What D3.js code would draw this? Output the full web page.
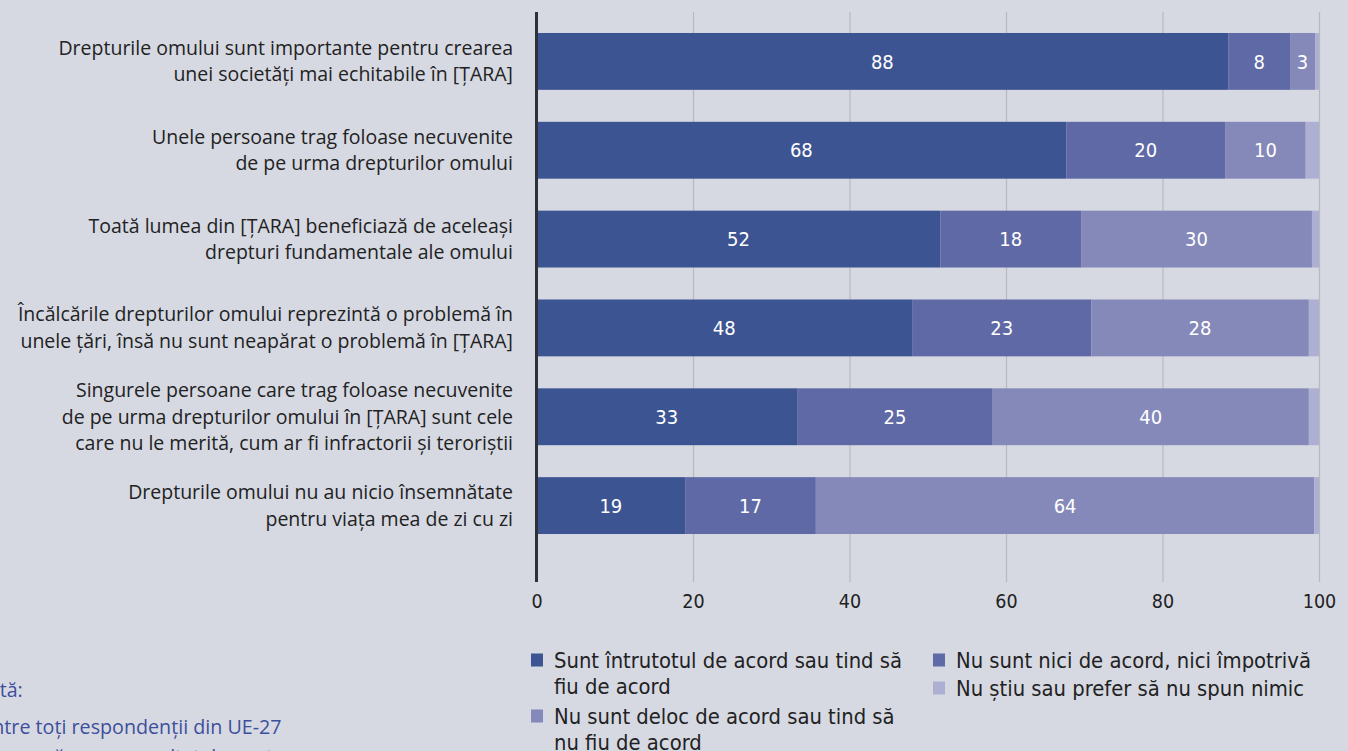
<!DOCTYPE html>
<html>
<head>
<meta charset="utf-8">
<script src="https://cdn.jsdelivr.net/npm/d3@7"></script>
<style>
  body { margin: 0; background: #d6d9e2; overflow: hidden; }
  svg { display: block; }
  .cat { font-family: "Open Sans", "Noto Sans", sans-serif; font-size: 19.5px; fill: #222; }
  .tick text { font-family: "Liberation Sans Narrow", "DejaVu Sans Condensed", sans-serif; font-size: 19.5px; fill: #222; }
  .val { font-family: "Liberation Sans Narrow", "DejaVu Sans Condensed", sans-serif; font-size: 20px; fill: #fff; }
  .leg { font-family: "Liberation Sans Narrow", "DejaVu Sans Condensed", sans-serif; font-size: 21.8px; fill: #222; }
  .note { font-family: "Open Sans", "Noto Sans", sans-serif; font-size: 19.7px; fill: #3d4f9c; }
</style>
</head>
<body>
<svg id="chart" width="1348" height="751"></svg>
<script>
const categories = [
  ["Drepturile omului sunt importante pentru crearea", "unei societăți mai echitabile în [ȚARA]"],
  ["Unele persoane trag foloase necuvenite", "de pe urma drepturilor omului"],
  ["Toată lumea din [ȚARA] beneficiază de aceleași", "drepturi fundamentale ale omului"],
  ["Încălcările drepturilor omului reprezintă o problemă în", "unele țări, însă nu sunt neapărat o problemă în [ȚARA]"],
  ["Singurele persoane care trag foloase necuvenite", "de pe urma drepturilor omului în [ȚARA] sunt cele", "care nu le merită, cum ar fi infractorii și teroriștii"],
  ["Drepturile omului nu au nicio însemnătate", "pentru viața mea de zi cu zi"]
];

// share of respondents (%) per answer
const agree    = [88.4, 67.7, 51.6, 48.0, 33.3, 19.0];
const neutral  = [7.9, 20.3, 18.0, 22.9, 25.0, 16.7];
const disagree = [3.2, 10.3, 29.5, 27.8, 40.4, 63.7];
const dontKnow = [0.5, 1.7, 0.9, 1.3, 1.3, 0.6];

const seriesNames = [
  "Sunt întrutotul de acord sau tind să fiu de acord",
  "Nu sunt nici de acord, nici împotrivă",
  "Nu sunt deloc de acord sau tind să nu fiu de acord",
  "Nu știu sau prefer să nu spun nimic"
];
const colors = ["#3d5493", "#5f69a5", "#8589b9", "#aeb0d3"];
const xTicks = [0, 20, 40, 60, 80, 100];

const svg = d3.select("#chart");
const x = d3.scaleLinear().domain([0, 100]).range([536.5, 1319]);
const y = d3.scaleBand().domain(d3.range(categories.length))
  .range([17, 550]).paddingInner(0.36).paddingOuter(0.18);

const rows = categories.map((c, i) => ({
  i: i,
  vals: [agree[i], neutral[i], disagree[i], dontKnow[i]]
}));
const stack = d3.stack().keys([0, 1, 2, 3]).value((d, k) => d.vals[k]);
const layers = stack(rows);

// grid lines
const grid = svg.append("g").attr("transform", "translate(0,582)")
  .call(d3.axisBottom(x).tickValues(xTicks).tickSize(-570).tickFormat(""));
grid.select(".domain").remove();
grid.selectAll("line").attr("stroke", "#b9b9bd").attr("stroke-width", 1.2);

// tick labels
const axis = svg.append("g").attr("transform", "translate(0,590)")
  .call(d3.axisBottom(x).tickValues(xTicks).tickSize(0).tickPadding(0));
axis.select(".domain").remove();
axis.selectAll("text").attr("dy", "0.9em");

// bars
svg.append("g").selectAll("g").data(layers).join("g")
  .attr("fill", (d, k) => colors[k])
  .selectAll("rect").data(d => d).join("rect")
  .attr("x", d => x(d[0]))
  .attr("y", d => y(d.data.i))
  .attr("width", d => x(d[1]) - x(d[0]))
  .attr("height", y.bandwidth());

// value labels
layers.slice(0, 3).forEach(layer => {
  svg.append("g").selectAll("text").data(layer.filter(d => d[1] - d[0] >= 2.5)).join("text")
    .attr("class", "val")
    .attr("x", d => (x(d[0]) + x(d[1])) / 2)
    .attr("y", d => y(d.data.i) + y.bandwidth() / 2)
    .attr("text-anchor", "middle")
    .attr("dy", "0.36em")
    .text(d => Math.round(d[1] - d[0]));
});

// axis line
svg.append("line")
  .attr("x1", 536.5).attr("x2", 536.5).attr("y1", 12).attr("y2", 582)
  .attr("stroke", "#2d3239").attr("stroke-width", 3);

// category labels
const lineH = 26.5;
svg.append("g").selectAll("text").data(categories).join("text")
  .attr("class", "cat")
  .attr("text-anchor", "end")
  .each(function(lines, i) {
    const cy = y(i) + y.bandwidth() / 2 - (lines.length - 1) * lineH / 2;
    d3.select(this).selectAll("tspan").data(lines).join("tspan")
      .attr("x", 513)
      .attr("y", (l, j) => cy + j * lineH)
      .attr("dy", "0.35em")
      .text(l => l);
  });

// legend
const legendItems = [
  { k: 0, x: 531, y: 660, lines: ["Sunt întrutotul de acord sau tind să", "fiu de acord"] },
  { k: 2, x: 531, y: 716, lines: ["Nu sunt deloc de acord sau tind să", "nu fiu de acord"] },
  { k: 1, x: 933, y: 660, lines: ["Nu sunt nici de acord, nici împotrivă"] },
  { k: 3, x: 933, y: 688, lines: ["Nu știu sau prefer să nu spun nimic"] }
];
const leg = svg.append("g").selectAll("g").data(legendItems).join("g");
leg.append("rect")
  .attr("x", d => d.x).attr("y", d => d.y - 6.5)
  .attr("width", 12).attr("height", 13)
  .attr("fill", d => colors[d.k]);
leg.append("text").attr("class", "leg")
  .each(function(d) {
    d3.select(this).selectAll("tspan").data(d.lines).join("tspan")
      .attr("x", d.x + 23)
      .attr("y", (l, j) => d.y + j * 26)
      .attr("dy", "0.36em")
      .text(l => l);
  });

// note, cut by the left edge
const noteX = -27;
const note = svg.append("text").attr("class", "note");
note.append("tspan").attr("x", noteX).attr("y", 697).text("Notă:");
note.append("tspan").attr("x", noteX).attr("y", 734).text("Dintre toți respondenții din UE-27");
note.append("tspan").attr("x", noteX).attr("y", 764).text("care au răspuns, rezultatele sunt");
</script>
</body>
</html>
